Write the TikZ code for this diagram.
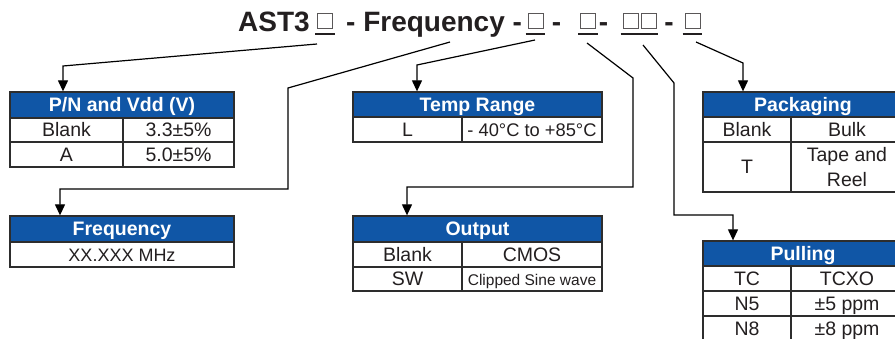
\documentclass[tikz,border=0pt]{standalone}
\usepackage{fontspec}
\setmainfont{Liberation Sans}
\usetikzlibrary{arrows.meta,calc}
\definecolor{hblue}{RGB}{16,86,166}
\definecolor{ink}{RGB}{35,31,32}
\definecolor{frame}{RGB}{45,45,45}
\newcommand\bodyfont{\fontsize{19.5}{23}\selectfont}
\newcommand\mkcell[7]{%
  \node[#1,minimum width={#5-#3},minimum height={#6-#4}] (#2) at ({(#3+#5)/2},{(#4+#6)/2}) {#7};}
\tikzset{
  cellbase/.style={draw=frame,line width=1.3pt,inner sep=0pt,text=ink,font=\bodyfont},
  cell/.style={cellbase,text height=14pt,text depth=0pt},
  cellml/.style={cellbase,align=center},
  hdr/.style={cell,fill=hblue,text=white,font=\bodyfont\bfseries},
  conn/.style={draw=black,line width=1.2pt,-{Triangle[length=11pt,width=10pt]}},
  tbox/.style={draw=ink!75,line width=0.8pt,minimum width=15pt,minimum height=15pt,inner sep=0pt},
  uline/.style={draw=ink,line width=1.9pt},
  ttext/.style={font=\fontsize{28}{32}\selectfont\bfseries,text=ink,inner sep=0pt,anchor=base west}
}
\begin{document}
\begin{tikzpicture}[x=1pt,y=-1pt]
\useasboundingbox (0,0) rectangle (895,339);
\fill[white] (0,0) rectangle (895,339);
\clip (0,0) rectangle (895,339);

% title
\node[ttext] (t1) at (238,32) {AST3};
\node[tbox] (b1) at (325,21) {};
\node[ttext] (t2) at (346,32) {- Frequency -};
\node[tbox] (b2) at (535.5,21) {};
\node[ttext,anchor=base] (t3) at (556.5,32) {-};
\node[tbox] (b3) at (588,21) {};
\node[ttext,anchor=base] (t4) at (603.5,32) {-};
\node[tbox] (b4) at (630.5,21) {};
\node[tbox] (b5) at (648.5,21) {};
\node[ttext,anchor=base] (t5) at (669,32) {-};
\node[tbox] (b6) at (692.5,21) {};
\foreach \b in {b1,b2,b3,b6}{
  \draw[uline] ($(\b.south west)+(-2,5)$) -- ($(\b.south east)+(2,5)$);
}
\draw[uline] ($(b4.south west)+(-2,5)$) -- ($(b5.south east)+(2,5)$);

% connector start points
\coordinate (s1) at (317,44);
\coordinate (s2) at (450,42);
\coordinate (s3) at (535,40);
\coordinate (s4) at (587,43);
\coordinate (s5) at (643,45);
\coordinate (s6) at (696,42);

% tables
\mkcell{hdr}{pnh}{10}{92}{234}{118}{P/N and Vdd (V)}
\mkcell{cell}{pna}{10}{118}{123}{142}{Blank}
\mkcell{cell}{pnb}{123}{118}{234}{142}{3.3±5\%}
\mkcell{cell}{pnc}{10}{142}{123}{167}{A}
\mkcell{cell}{pnd}{123}{142}{234}{167}{5.0±5\%}

\mkcell{hdr}{trh}{353}{92}{602}{117}{Temp Range}
\mkcell{cell}{tra}{353}{117}{462}{142}{L}
\mkcell{cell}{trb}{462}{117}{602}{142}{\fontsize{18.3}{22}\selectfont - 40°C to +85°C}

\mkcell{hdr}{pkh}{703}{92}{903}{117}{Packaging}
\mkcell{cell}{pka}{703}{117}{791}{142}{Blank}
\mkcell{cell}{pkb}{791}{117}{903}{142}{Bulk}
\mkcell{cell}{pkc}{703}{142}{791}{192}{T}
\mkcell{cellml}{pkd}{791}{142}{903}{192}{Tape and\\[2pt]Reel}

\mkcell{hdr}{fqh}{10}{216}{234}{242}{Frequency}
\mkcell{cell}{fqa}{10}{242}{234}{267}{\fontsize{18}{22}\selectfont XX.XXX MHz}

\mkcell{hdr}{oph}{353}{216}{602}{242}{Output}
\mkcell{cell}{opa}{353}{242}{462}{267}{Blank}
\mkcell{cell}{opb}{462}{242}{602}{267}{CMOS}
\mkcell{cell}{opc}{353}{267}{462}{291}{SW}
\mkcell{cell}{opd}{462}{267}{602}{291}{\fontsize{15.5}{18}\selectfont Clipped Sine wave}

\mkcell{hdr}{plh}{703}{241}{903}{266}{Pulling}
\mkcell{cell}{pla}{703}{266}{791}{291}{TC}
\mkcell{cell}{plb}{791}{266}{903}{291}{TCXO}
\mkcell{cell}{plc}{703}{291}{791}{316}{N5}
\mkcell{cell}{pld}{791}{291}{903}{316}{±5 ppm}
\mkcell{cell}{ple}{703}{316}{791}{341}{N8}
\mkcell{cell}{plf}{791}{316}{903}{341}{±8 ppm}

% connectors
\draw[conn] (s1) -- (63,66) -- (63,66 |- pnh.north);
\draw[conn] (s2) -- (288,88) -- (288,189) -- (60,189) -- (60,189 |- fqh.north);
\draw[conn] (s3) -- (417,65) -- (417,65 |- trh.north);
\draw[conn] (s4) -- (633,78) -- (633,187) -- (407,187) -- (407,187 |- oph.north);
\draw[conn] (s5) -- (674,83) -- (674,215) -- (733,215) -- (733,215 |- plh.north);
\draw[conn] (s6) -- (743,63) -- (743,63 |- pkh.north);
\end{tikzpicture}
\end{document}
